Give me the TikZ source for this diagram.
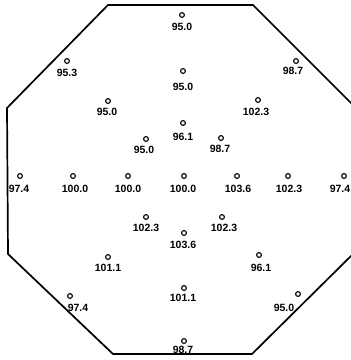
\documentclass[tikz,border=0pt]{standalone}
\usepackage{fontspec}
\setmainfont{Liberation Sans}
\begin{document}
\begin{tikzpicture}[x=1pt,y=-1pt,
  pt/.style={circle,draw,inner sep=0pt,minimum size=4.8pt,line width=1.1pt},
  val/.style={inner sep=0pt,font=\fontsize{10.5}{11}\selectfont\bfseries},
  frame/.style={line width=1.7pt,line join=miter}]
\useasboundingbox (0,0) rectangle (351,360);
\clip (0,0) rectangle (351,360);
\fill[white] (0,0) rectangle (351,360);
\coordinate (v1) at (108,5);
\coordinate (v2) at (253,5);
\coordinate (v3) at (354,106);
\coordinate (v4) at (354,253);
\coordinate (v5) at (252,354);
\coordinate (v6) at (113,354);
\coordinate (v7) at (8,254);
\coordinate (v8) at (7,108);
\draw[frame] (v1) -- (v2) -- (v3) -- (v4) -- (v5) -- (v6) -- (v7) -- (v8) -- cycle;
% measurement points: dot, then value
\node[pt] (p1) at (182,15) {}; \node[val] (l1) at (182,27) {95.0};
\node[pt] (p2) at (67,61) {}; \node[val] (l2) at (67,73) {95.3};
\node[pt] (p3) at (108,101) {}; \node[val] (l3) at (107,112) {95.0};
\node[pt] (p4) at (146,139) {}; \node[val] (l4) at (144,150) {95.0};
\node[pt] (p5) at (183,71) {}; \node[val] (l5) at (183,87) {95.0};
\node[pt] (p6) at (296,61) {}; \node[val] (l6) at (293,71) {98.7};
\node[pt] (p7) at (258,100) {}; \node[val] (l7) at (256,112) {102.3};
\node[pt] (p8) at (183,123) {}; \node[val] (l8) at (183,137) {96.1};
\node[pt] (p9) at (221,138) {}; \node[val] (l9) at (220,149) {98.7};
% middle row
\node[pt] (m1) at (20,176) {}; \node[val] (n1) at (19,189) {97.4};
\node[pt] (m2) at (73,176) {}; \node[val] (n2) at (75,189) {100.0};
\node[pt] (m3) at (128,176) {}; \node[val] (n3) at (128,189) {100.0};
\node[pt] (m4) at (184,176) {}; \node[val] (n4) at (183,189) {100.0};
\node[pt] (m5) at (237,176) {}; \node[val] (n5) at (238,189) {103.6};
\node[pt] (m6) at (288,176) {}; \node[val] (n6) at (289,189) {102.3};
\node[pt] (m7) at (344,176) {}; \node[val] (n7) at (340,189) {97.4};
% lower part
\node[pt] (q1) at (146,217) {}; \node[val] (r1) at (146,228) {102.3};
\node[pt] (q2) at (108,257) {}; \node[val] (r2) at (108,268) {101.1};
\node[pt] (q3) at (70,296) {}; \node[val] (r3) at (78,308) {97.4};
\node[pt] (q4) at (184,233) {}; \node[val] (r4) at (183,245) {103.6};
\node[pt] (q5) at (222,217) {}; \node[val] (r5) at (224,228) {102.3};
\node[pt] (q6) at (259,255) {}; \node[val] (r6) at (261,268) {96.1};
\node[pt] (q7) at (184,288) {}; \node[val] (r7) at (183,298) {101.1};
\node[pt] (q8) at (298,294) {}; \node[val] (r8) at (284,308) {95.0};
\node[pt] (q9) at (184,341) {}; \node[val] (r9) at (183,349.5) {98.7};
\end{tikzpicture}
\end{document}
